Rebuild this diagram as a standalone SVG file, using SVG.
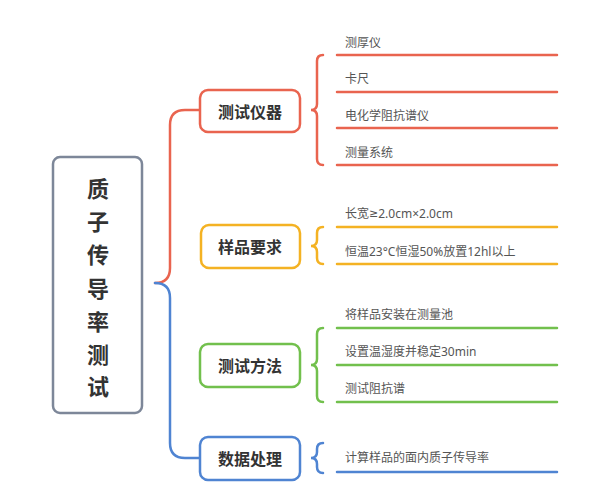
<svg xmlns="http://www.w3.org/2000/svg" width="599" height="497" viewBox="0 0 599 497">
<style>
.cjk{font-family:"Noto Sans CJK SC","Noto Sans",sans-serif}
.lat{font-family:"Noto Sans","Noto Sans CJK SC",sans-serif}
.dv{font-family:"DejaVu Sans",sans-serif;font-size:11px}
.root{font-size:22px;font-weight:bold;fill:#333;text-anchor:middle;dominant-baseline:central}
.node{font-size:16px;font-weight:bold;fill:#333;text-anchor:middle;dominant-baseline:central}
.leaf{font-size:12px;fill:#555;dominant-baseline:central}
.box{fill:#fff;stroke-width:2.5}
.ln{fill:none;stroke-width:2.5;stroke-linecap:round}
.r{stroke:#e9644f}.o{stroke:#f4b223}.g{stroke:#72c04d}.b{stroke:#4f84d2}
</style>
<rect width="599" height="497" fill="#fff"/>
<g id="connectors">
<path class="ln r" d="M155,283 Q170,283 170,268 V125 Q170,110 185,110 H200"/>
<path class="ln b" d="M155,283 Q170,283 170,298 V443 Q170,458 185,458 H200"/>
<path class="ln r" d="M323,55 Q317,55 317,61 V104 Q317,110 311,110 Q317,110 317,116 V159 Q317,165 323,165"/>
<path class="ln o" d="M323,227 Q317,227 317,233 V240 Q317,246 311,246 Q317,246 317,252 V258 Q317,264 323,264"/>
<path class="ln g" d="M323,328 Q317,328 317,334 V359 Q317,365 311,365 Q317,365 317,371 V396 Q317,402 323,402"/>
<path class="ln b" d="M323,443 Q317,443 317,449 V452 Q317,458 311,458 Q317,458 317,464 V467 Q317,473 323,473"/>
<g class="ln r"><path d="M337,55 H557"/><path d="M337,92 H557"/><path d="M337,128 H557"/><path d="M337,165 H557"/></g>
<g class="ln o"><path d="M337,227 H557"/><path d="M337,264 H557"/></g>
<g class="ln g"><path d="M337,328 H557"/><path d="M337,365 H557"/><path d="M337,402 H557"/></g>
<g class="ln b"><path d="M337,472 H557"/></g>
</g>
<g id="root">
<rect class="box" x="53" y="157" width="89" height="256" rx="7" stroke="#7d8799"/>
<g class="cjk root">
<text x="98" y="187">质</text><text x="98" y="220">子</text><text x="98" y="253">传</text><text x="98" y="287">导</text><text x="98" y="320">率</text><text x="98" y="353">测</text><text x="98" y="385">试</text>
</g>
</g>
<g id="n1">
<rect class="box r" x="200" y="90" width="100" height="42" rx="8"/>
<text class="cjk node" x="250" y="111">测试仪器</text>
</g>
<g id="n2">
<rect class="box o" x="201" y="225" width="99" height="43" rx="8"/>
<text class="cjk node" x="250" y="246">样品要求</text>
</g>
<g id="n3">
<rect class="box g" x="200" y="344" width="100" height="43" rx="8"/>
<text class="cjk node" x="250" y="365">测试方法</text>
</g>
<g id="n4">
<rect class="box b" x="200" y="437" width="100" height="43" rx="8"/>
<text class="cjk node" x="250" y="458">数据处理</text>
</g>
<g id="leaves">
<text class="lat leaf" x="345" y="42">测厚仪</text>
<text class="lat leaf" x="345" y="78">卡尺</text>
<text class="lat leaf" x="345" y="115">电化学阻抗谱仪</text>
<text class="lat leaf" x="345" y="152">测量系统</text>
<text class="lat leaf" x="345" y="213">长宽<tspan class="dv">≥</tspan>2.0cm×2.0cm</text>
<text class="lat leaf" x="345" y="251">恒温23°C恒湿50%放置12hl以上</text>
<text class="lat leaf" x="345" y="314">将样品安装在测量池</text>
<text class="lat leaf" x="345" y="351">设置温湿度并稳定30min</text>
<text class="lat leaf" x="345" y="388">测试阻抗谱</text>
<text class="lat leaf" x="345" y="457">计算样品的面内质子传导率</text>
</g>
</svg>
